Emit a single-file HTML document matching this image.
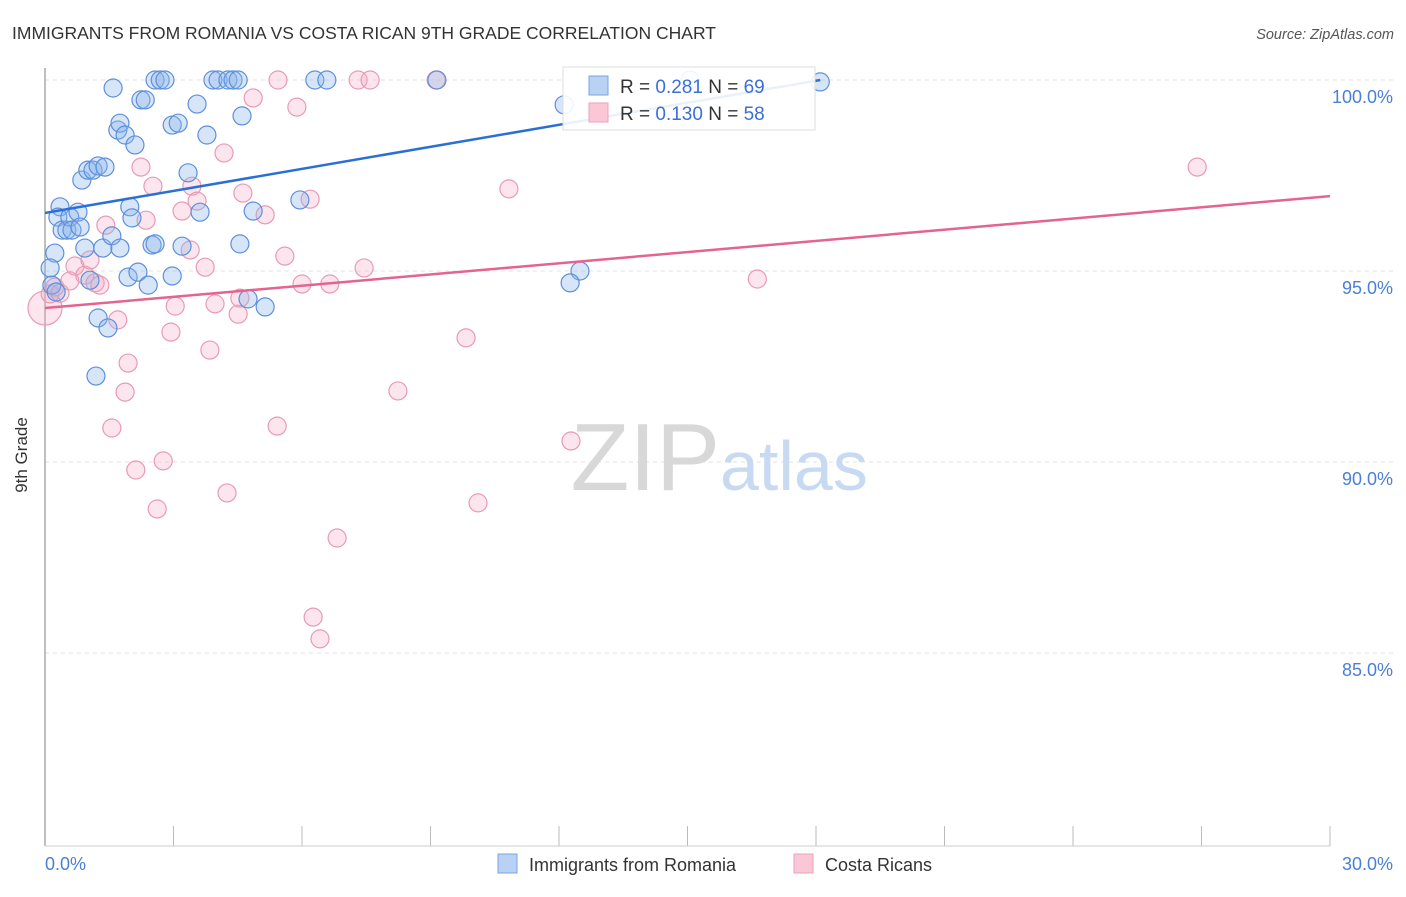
<!DOCTYPE html>
<html><head><meta charset="utf-8"><style>
body{margin:0;background:#fff;font-family:"Liberation Sans",sans-serif}
svg text{font-family:"Liberation Sans",sans-serif}
</style></head><body>
<svg id="chart" width="1406" height="892" viewBox="0 0 1406 892">
<text x="12" y="39" font-size="17.5" fill="#333">IMMIGRANTS FROM ROMANIA VS COSTA RICAN 9TH GRADE CORRELATION CHART</text>
<text x="1394" y="39" font-size="14.5" fill="#555" font-style="italic" text-anchor="end">Source: ZipAtlas.com</text>
<g id="grid"></g>
<text x="720" y="490" font-size="96" font-family="Liberation Serif" fill="#d8d8d8" text-anchor="end">ZIP</text>
<text x="720" y="490" font-size="70" fill="#c8daf2">atlas</text>
<line x1="45" y1="68" x2="45" y2="846" stroke="#aaa" stroke-width="1.5"/>
<line x1="45" y1="846" x2="1330" y2="846" stroke="#ccc" stroke-width="1"/>
<text x="27" y="455" font-size="17" fill="#333" text-anchor="middle" transform="rotate(-90 27 455)">9th Grade</text>
<text x="45" y="870" font-size="18" fill="#4a7fd8">0.0%</text>
<text x="1393" y="870" font-size="18" fill="#4a7fd8" text-anchor="end">30.0%</text>
<g id="pts"></g>
<g id="lines"></g>
<g>
<rect x="563" y="67" width="252" height="63" fill="#fff" fill-opacity="0.9" stroke="#ddd"/>
<rect x="589" y="76" width="19" height="19" fill="#b9d1f3" stroke="#7aa4e4"/>
<rect x="589" y="103" width="19" height="19" fill="#f9c7d6" stroke="#eea2ba"/>
<text x="620" y="93" font-size="19" fill="#333">R = <tspan fill="#3b6fd6">0.281</tspan>   N = <tspan fill="#3b6fd6">69</tspan></text>
<text x="620" y="120" font-size="19" fill="#333">R = <tspan fill="#3b6fd6">0.130</tspan>   N = <tspan fill="#3b6fd6">58</tspan></text>
</g>
<g>
<rect x="498" y="854" width="19" height="19" fill="#b9d1f3" stroke="#7aa4e4"/>
<text x="529" y="871" font-size="18" fill="#333">Immigrants from Romania</text>
<rect x="794" y="854" width="19" height="19" fill="#f9c7d6" stroke="#eea2ba"/>
<text x="825" y="871" font-size="18" fill="#333">Costa Ricans</text>
</g>
</svg>
<script>
const yTicks=[100,95,90,85];
const yTickLabels=["100.0%","95.0%","90.0%","85.0%"];
const xTicks=[0,3,6,9,12,15,18,21,24,27,30];
const blueX=[.16,.23,.12,.35,.30,.40,.51,.58,.63,.77,.82,.93,.86,1.00,1.12,1.24,1.40,1.35,1.56,1.24,1.47,1.19,1.05,1.59,1.70,1.75,1.87,2.10,1.94,2.17,1.98,2.03,1.75,2.24,2.34,2.41,2.50,2.57,2.57,2.69,2.80,2.97,3.11,2.97,3.20,3.34,3.62,3.55,3.78,3.92,4.04,4.27,4.39,4.51,4.60,4.55,4.74,4.86,5.14,5.95,6.30,6.58,9.15,12.12,12.49,12.26,15.06,18.10,.26];
const blueY=[94.63,95.47,95.08,96.68,96.41,96.07,96.07,96.41,96.07,96.54,96.15,95.60,97.38,97.64,97.64,97.75,97.72,95.60,95.92,93.77,93.51,92.25,94.76,99.79,98.69,98.87,98.56,98.30,94.84,94.97,96.68,96.39,95.60,99.48,99.48,94.63,95.68,95.71,100,100,100,98.82,98.87,94.87,95.65,97.57,96.54,99.37,98.56,100,100,100,100,100,99.06,95.71,94.27,96.57,94.06,96.86,100,100,100,99.35,95.00,94.69,100,99.95,94.45];
const pinkX=[0,.12,.23,.35,.58,.70,.93,1.05,1.17,1.28,1.70,1.42,1.56,1.87,1.94,2.12,2.24,2.36,2.52,2.62,2.76,2.94,3.04,3.20,3.39,3.43,3.55,3.74,3.85,3.97,4.18,4.25,4.51,4.55,4.62,4.86,5.14,5.42,5.60,5.88,6.00,6.19,6.26,6.42,6.65,6.82,7.31,7.45,7.59,8.24,9.13,9.83,10.11,10.83,12.28,5.44,16.63,26.90];
const pinkY=[94.03,94.40,94.58,94.42,94.74,95.13,94.89,95.29,94.69,94.63,93.72,96.20,90.89,91.83,92.59,89.79,97.72,96.33,97.22,88.77,90.03,93.40,94.08,96.57,95.55,97.22,96.83,95.10,92.93,94.14,98.09,89.19,93.87,94.29,97.04,99.53,96.47,90.94,95.39,99.29,94.66,96.88,85.94,85.37,94.66,88.01,100,95.08,100,91.86,100,93.25,88.93,97.15,90.55,100,94.79,97.72];
const blueTrend=[[0,96.52],[18.1,100]];
const pinkTrend=[[0,94.03],[30,96.96]];
const NS="http://www.w3.org/2000/svg";
const sx=v=>45+v/30*1285;
const sy=v=>80+(100-v)/5*191;
function mk(tag,attrs,parent){const e=document.createElementNS(NS,tag);for(const k in attrs)e.setAttribute(k,attrs[k]);parent.appendChild(e);return e;}
const grid=document.getElementById('grid');
yTicks.forEach((t,i)=>{
 const l=mk('line',{x1:45,x2:1393,y1:sy(t),y2:sy(t),stroke:'#e2e2e2','stroke-dasharray':'4,4'},grid);
 
 
 const tx=mk('text',{x:1393,y:sy(t)+23,'font-size':18,fill:'#4a7fd8','text-anchor':'end'},grid);
 tx.textContent=yTickLabels[i];
 
 
});
xTicks.forEach(t=>{
 const l=mk('line',{x1:sx(t),x2:sx(t),y1:826,y2:846,stroke:'#bbb'},grid);
 
 
});
const pts=document.getElementById('pts');
pinkX.forEach((x,i)=>{
 const c=mk('circle',{cx:sx(x),cy:sy(pinkY[i]),r:i===0?17:9,fill:'#f4a9c0','fill-opacity':0.3,stroke:'#e99ab5','stroke-width':1.2},pts);
 
 
});
blueX.forEach((x,i)=>{
 const c=mk('circle',{cx:sx(x),cy:sy(blueY[i]),r:9,fill:'#8db4ea','fill-opacity':0.35,stroke:'#5d90dc','stroke-width':1.2},pts);
 
 
});
const lines=document.getElementById('lines');
const bl=mk('line',{x1:sx(blueTrend[0][0]),y1:sy(blueTrend[0][1]),x2:sx(blueTrend[1][0]),y2:sy(blueTrend[1][1]),stroke:'#2a6fd6','stroke-width':2.5},lines);


const pl=mk('line',{x1:sx(pinkTrend[0][0]),y1:sy(pinkTrend[0][1]),x2:sx(pinkTrend[1][0]),y2:sy(pinkTrend[1][1]),stroke:'#e4638f','stroke-width':2.5},lines);


</script>
</body></html>
